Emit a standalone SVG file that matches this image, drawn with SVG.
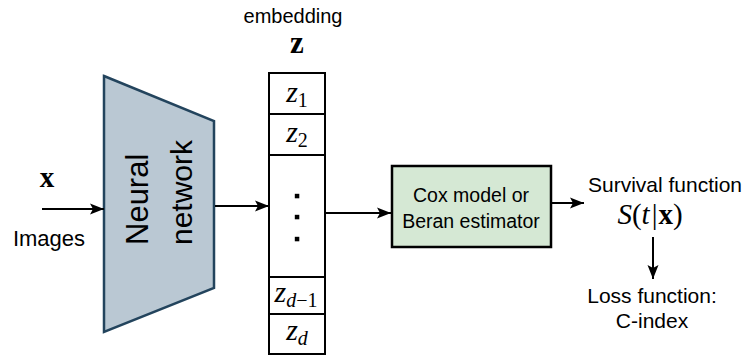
<svg xmlns="http://www.w3.org/2000/svg" width="744" height="356" viewBox="0 0 744 356">
<style>
.sans{font-family:"Liberation Sans",Arial,sans-serif;fill:#000}
.serif{font-family:"Liberation Serif","Times New Roman",serif;fill:#000}
.it{font-style:italic}
.bd{font-weight:bold}
.edge{stroke:#000;stroke-width:2;fill:none}
.cell{fill:#fff;stroke:#000;stroke-width:2}
</style>
<defs>
<marker id="arr" markerUnits="userSpaceOnUse" markerWidth="15" markerHeight="12" refX="14" refY="6" orient="auto">
<path d="M0,0.5 L14,6 L0,11.5 L3,6 z" fill="#000"/>
</marker>
</defs>
<g id="input">
<text class="serif bd" x="47" y="187" font-size="29" text-anchor="middle">x</text>
<text class="sans" x="49" y="246" font-size="22" text-anchor="middle">Images</text>
</g>
<g id="neural-network">
<polygon points="104,76 214,121 214,288 104,332" fill="#bac8d3" stroke="#23445d" stroke-width="2.5"/>
<text class="sans" font-size="31" transform="translate(148,245) rotate(-90)">Neural</text>
<text class="sans" font-size="30" transform="translate(192,245) rotate(-90)">network</text>
</g>
<g id="embedding">
<text class="sans" x="293" y="23" font-size="20" text-anchor="middle">embedding</text>
<text class="serif bd" x="297" y="53" font-size="31" text-anchor="middle">z</text>
<rect class="cell" x="269" y="73" width="56" height="41"/>
<rect class="cell" x="269" y="114" width="56" height="41"/>
<rect class="cell" x="269" y="155" width="56" height="122"/>
<rect class="cell" x="269" y="277" width="56" height="37"/>
<rect class="cell" x="269" y="314" width="56" height="40"/>
<text class="serif" x="297" y="102" font-size="30" text-anchor="middle"><tspan class="it">z</tspan><tspan font-size="20" dy="5">1</tspan></text>
<text class="serif" x="297" y="142" font-size="30" text-anchor="middle"><tspan class="it">z</tspan><tspan font-size="20" dy="5">2</tspan></text>
<rect x="294.8" y="193.8" width="4.5" height="4.5" fill="#000"/>
<rect x="294.8" y="214.8" width="4.5" height="4.5" fill="#000"/>
<rect x="294.8" y="236.8" width="4.5" height="4.5" fill="#000"/>
<text class="serif" x="296" y="302" font-size="30" text-anchor="middle"><tspan class="it">z</tspan><tspan font-size="20" dy="5"><tspan class="it">d</tspan>−1</tspan></text>
<text class="serif" x="297" y="340" font-size="30" text-anchor="middle"><tspan class="it">z</tspan><tspan font-size="20" dy="5" class="it">d</tspan></text>
</g>
<g id="cox-model">
<rect x="392" y="166" width="159" height="81" fill="#d5e8d4" stroke="#000" stroke-width="2.5"/>
<text class="sans" x="471" y="202" font-size="19.5" text-anchor="middle">Cox model or</text>
<text class="sans" x="471" y="228" font-size="19.5" text-anchor="middle">Beran estimator</text>
</g>
<g id="survival">
<text class="sans" x="665" y="192" font-size="21" text-anchor="middle">Survival function</text>
<text class="serif" x="650" y="224" font-size="29" text-anchor="middle"><tspan class="it">S</tspan>(<tspan class="it">t</tspan><tspan dx="2">|</tspan><tspan class="bd" dx="1">x</tspan>)</text>
</g>
<g id="loss">
<text class="sans" x="652" y="303" font-size="21" text-anchor="middle">Loss function:</text>
<text class="sans" x="652" y="328" font-size="21" text-anchor="middle">C-index</text>
</g>
<g id="connectors">
<line class="edge" x1="42" y1="209" x2="104" y2="209" marker-end="url(#arr)"/>
<line class="edge" x1="215" y1="206" x2="269" y2="206" marker-end="url(#arr)"/>
<line class="edge" x1="326" y1="213" x2="391" y2="213" marker-end="url(#arr)"/>
<line class="edge" x1="552" y1="203" x2="584" y2="203" marker-end="url(#arr)"/>
<line class="edge" x1="653" y1="237" x2="653" y2="279" marker-end="url(#arr)"/>
</g>
</svg>
